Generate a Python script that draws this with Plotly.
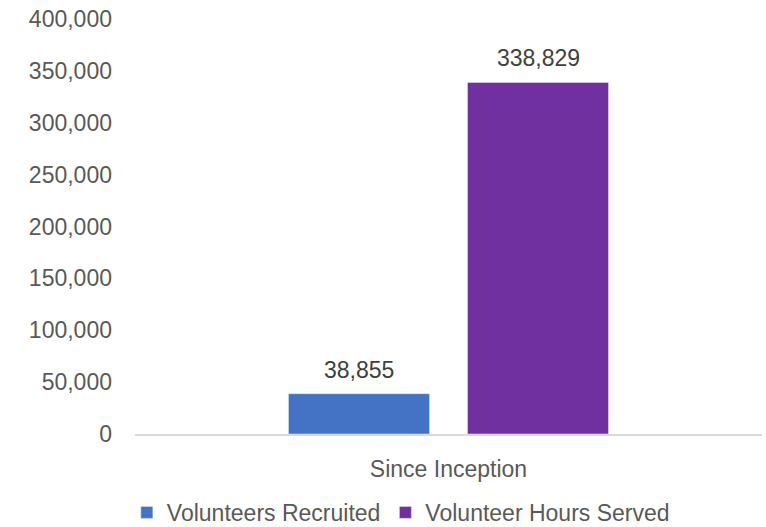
import plotly.graph_objects as go

categories = ["Since Inception"]
series_names = ["Volunteers Recruited", "Volunteer Hours Served"]
recruited = [38855]
hours = [338829]
colors = ["#4472C4", "#7030A0"]
y_ticks = [0, 50000, 100000, 150000, 200000, 250000, 300000, 350000, 400000]

FONT = "Liberation Sans, Arial, sans-serif"
FS = 23

fig = go.Figure()
for name, vals, col in zip(series_names, [recruited, hours], colors):
    fig.add_trace(go.Bar(x=categories, y=vals, name=name, marker_color=col))

# data labels above bars, offset to the centre of each bar in the group
slot_px = 179
for i, vals in enumerate([recruited, hours]):
    for cat, v in zip(categories, vals):
        fig.add_annotation(
            x=cat, y=v, xref="x", yref="y", text=f"{v:,}", showarrow=False,
            xshift=(i - 0.5) * slot_px, yshift=9, yanchor="bottom",
            font=dict(size=FS, color="#404040", family=FONT),
        )

fig.update_layout(
    width=766, height=527,
    margin=dict(l=135, r=4, t=19, b=93, autoexpand=False),
    paper_bgcolor="white", plot_bgcolor="white",
    barmode="group", bargap=0.429, bargroupgap=0.212,
    font=dict(family=FONT, color="#595959", size=FS),
    showlegend=True,
    legend=dict(orientation="h", x=0.424, xanchor="center", y=-0.189, yanchor="middle",
                font=dict(size=FS, color="#595959"), itemwidth=30, traceorder="normal"),
)
fig.update_xaxes(showline=True, linecolor="#D9D9D9", linewidth=1.5, ticks="",
                 tickfont=dict(size=FS, color="#595959"), showgrid=False,
                 ticklabelstandoff=14, automargin=False)
fig.update_yaxes(range=[0, 400000], tickvals=y_ticks, tickformat=",", showgrid=False,
                 zeroline=False, showline=False, ticks="", ticklabelstandoff=22,
                 ticklabeloverflow="allow",
                 tickfont=dict(size=FS, color="#595959"), automargin=False)

fig.write_html("out.html", config={"displayModeBar": False})

# remove the browser's default 8px body margin so the figure fills the window
with open("out.html", encoding="utf-8") as f:
    html = f.read()
html = html.replace("<body>", '<body style="margin:0;padding:0;overflow:hidden">', 1)
with open("out.html", "w", encoding="utf-8") as f:
    f.write(html)
